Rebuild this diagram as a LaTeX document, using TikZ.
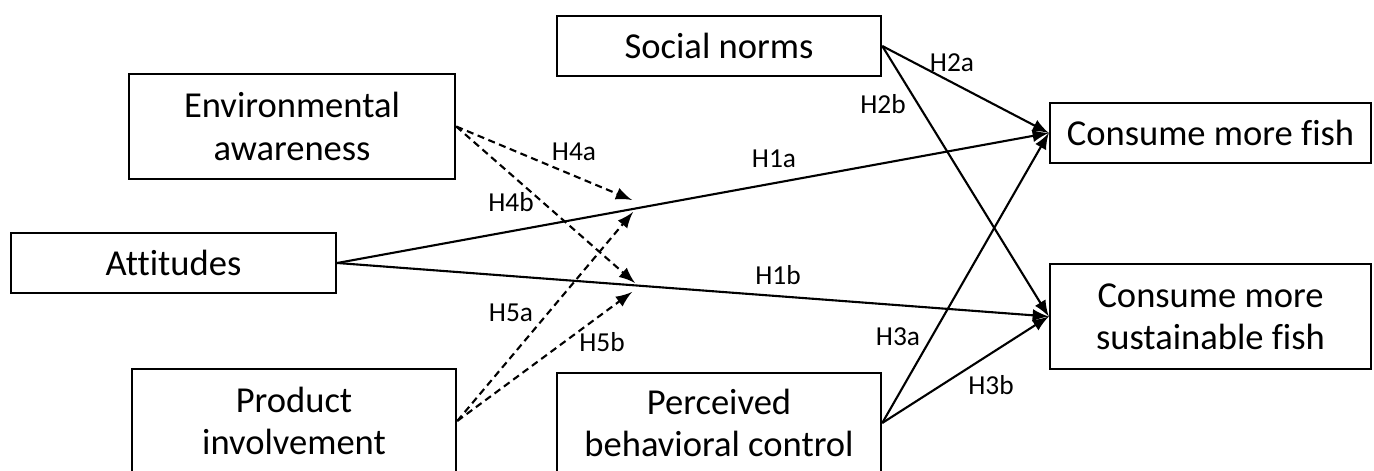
\documentclass[tikz,border=0pt]{standalone}
\usepackage{fontspec}
\setmainfont{Carlito}[Ligatures=NoCommon]
\usetikzlibrary{arrows,positioning}

\begin{document}
\begin{tikzpicture}[x=0.1mm, y=-0.1mm, ->, >=latex, line width=0.6pt,
	construct/.style={rectangle, draw, line width=0.7pt, align=center, inner sep=0pt,
		font=\fontsize{10.4}{12}\selectfont},
	hyp/.style={inner sep=0pt, font=\fontsize{7.8}{9}\selectfont},
	moderate/.style={dash pattern=on 2pt off 1.3pt}]
	\useasboundingbox (0,0) rectangle (1374,471);
	% constructs
	\node[construct, minimum width=32.6mm, minimum height=10.5mm] (env) at (292,126.5) {Environmental\\awareness};
	\node[construct, minimum width=32.5mm, minimum height=6mm] (att) at (173.5,263) {Attitudes};
	\node[construct, minimum width=32.4mm, minimum height=10.4mm] (inv) at (294,421) {Product\\involvement};
	\node[construct, minimum width=32.4mm, minimum height=6mm] (sn) at (719,46) {Social norms};
	\node[construct, minimum width=32.4mm, minimum height=10mm] (pbc) at (719,423) {Perceived\\behavioral control};
	\node[construct, minimum width=32.1mm, minimum height=6mm] (cmf) at (1210.5,133) {Consume more fish};
	\node[construct, minimum width=32.1mm, minimum height=10.5mm] (cmsf) at (1210.5,316.5) {Consume more\\sustainable fish};
	
	% moderation targets
	\coordinate (t4a) at (632,200);
	\coordinate (t5a) at (633,212);
	\coordinate (t4b) at (635,283);
	\coordinate (t5b) at (632,292);
	
	\path (att.east) edge (cmf.west)
	(att.east) edge (cmsf.west)
	(sn.east) edge (cmf.west)
	(sn.east) edge (cmsf.west)
	(pbc.east) edge (cmf.west)
	(pbc.east) edge (cmsf.west);
	\path[moderate] (env.east) edge (t4a)
	(env.east) edge (t4b)
	(inv.east) edge (t5a)
	(inv.east) edge (t5b);
	
	% hypotheses
	\node[hyp] (h1a) at (774,159) {H1a};
	\node[hyp] (h1b) at (778,275) {H1b};
	\node[hyp] (h2a) at (952,63) {H2a};
	\node[hyp] (h2b) at (883,104) {H2b};
	\node[hyp] (h3a) at (898,337) {H3a};
	\node[hyp] (h3b) at (991,385) {H3b};
	\node[hyp] (h4a) at (574,152) {H4a};
	\node[hyp] (h4b) at (511,202) {H4b};
	\node[hyp] (h5a) at (511,313) {H5a};
	\node[hyp] (h5b) at (602,342) {H5b};
\end{tikzpicture}
\end{document}
